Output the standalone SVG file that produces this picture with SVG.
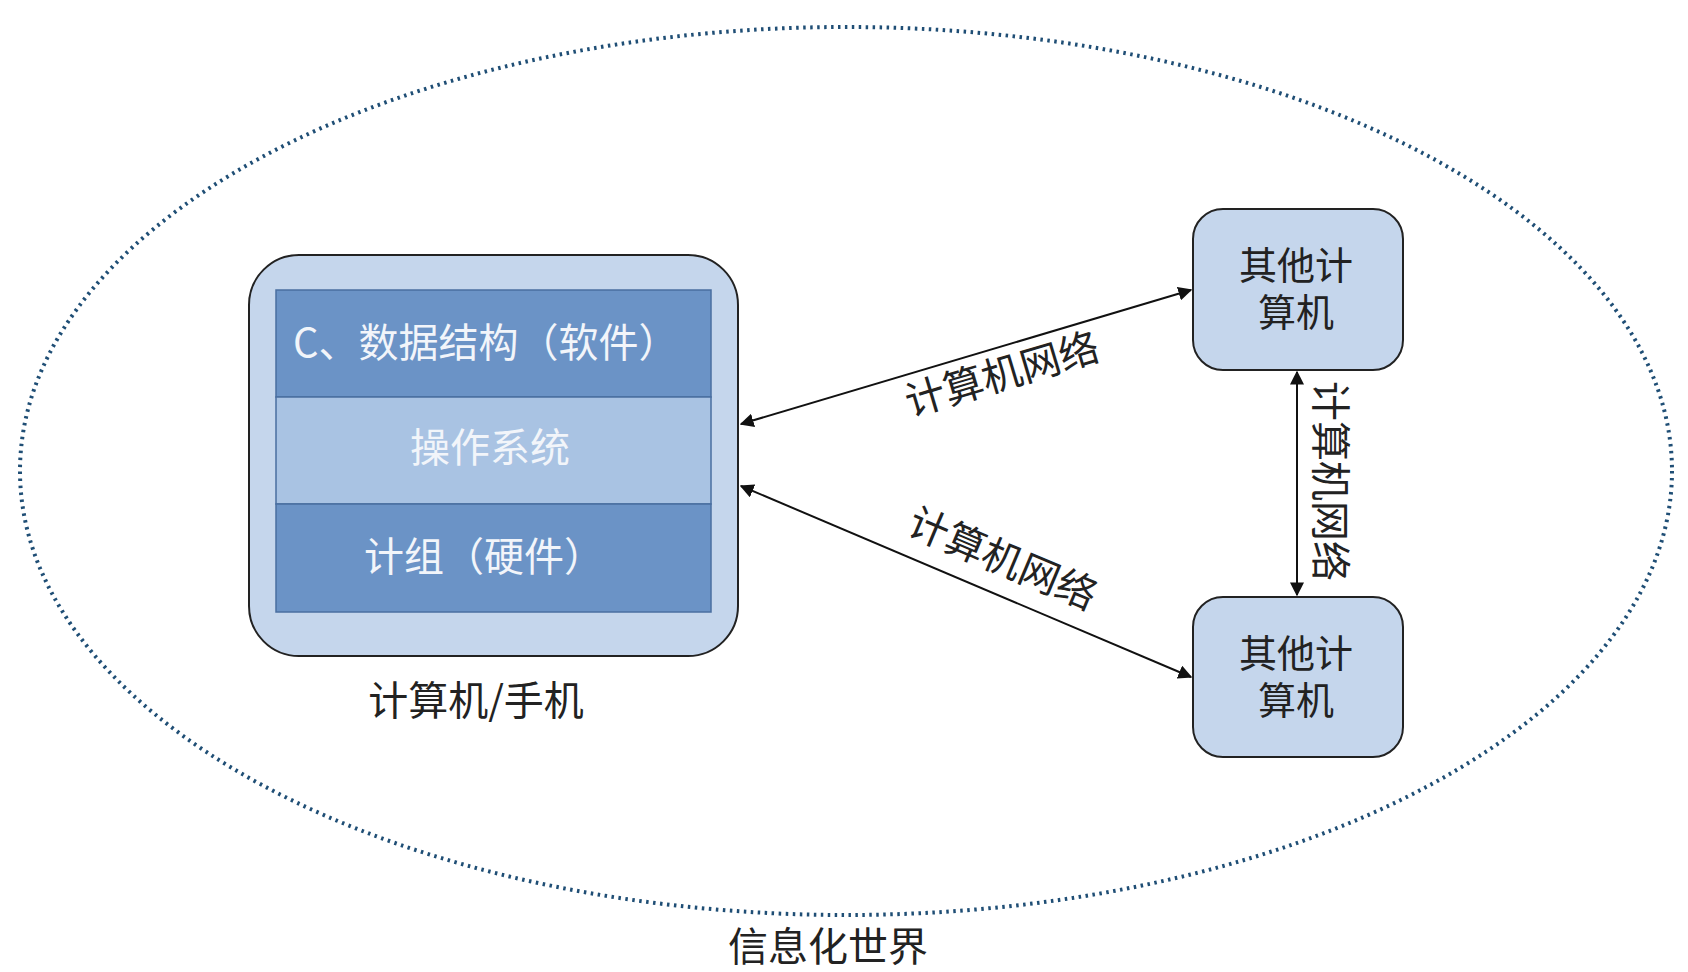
<svg xmlns="http://www.w3.org/2000/svg" width="1688" height="972" viewBox="0 0 1688 972">
<defs>
<marker id="ah" viewBox="0 0 10 10" refX="9" refY="5" markerWidth="7" markerHeight="7" orient="auto-start-reverse"><path d="M0,0 L10,5 L0,10 z" fill="#111"/></marker>
<style>
text{font-family:"Noto Sans CJK SC","Liberation Sans",sans-serif;}
.t{font-size:40px;fill:#222;text-anchor:middle;}
.b{font-size:38px;fill:#222;text-anchor:middle;}
.w{font-size:40px;fill:#f2f5fa;text-anchor:middle;}
.box{fill:#c5d6ec;stroke:#222;stroke-width:2;}
.c{stroke:#111;stroke-width:2;fill:none;marker-start:url(#ah);marker-end:url(#ah);}
</style>
</defs>
<rect width="1688" height="972" fill="#fff"/>
<g id="world"><ellipse cx="846" cy="471" rx="826" ry="444" fill="none" stroke="#1f4e75" stroke-width="4" stroke-dasharray="2.5 4.5"/>
<text class="t" x="828" y="961">信息化世界</text></g>
<g id="computer">
<rect class="box" x="249" y="255" width="489" height="401" rx="50"/>
<rect x="276" y="290" width="435" height="107" fill="#6b93c6" stroke="#4a6fa0" stroke-width="1.5"/>
<rect x="276" y="397" width="435" height="107" fill="#a9c3e3" stroke="#4a6fa0" stroke-width="1.5"/>
<rect x="276" y="504" width="435" height="108" fill="#6b93c6" stroke="#4a6fa0" stroke-width="1.5"/>
<text class="w" x="293" y="357" style="text-anchor:start">C、数据结构（软件）</text>
<text class="w" x="490" y="462">操作系统</text>
<text class="w" x="484" y="571">计组（硬件）</text>
<text class="t" x="476" y="715">计算机/手机</text>
</g>
<g id="other1"><rect class="box" x="1193" y="209" width="210" height="161" rx="30"/>
<text class="b" x="1296" y="279">其他计</text><text class="b" x="1296" y="326">算机</text></g>
<g id="other2"><rect class="box" x="1193" y="597" width="210" height="160" rx="30"/>
<text class="b" x="1296" y="667">其他计</text><text class="b" x="1296" y="714">算机</text></g>
<g id="connectors">
<line class="c" x1="741" y1="424" x2="1191" y2="290"/>
<line class="c" x1="741" y1="486" x2="1191" y2="677"/>
<line class="c" x1="1297" y1="372" x2="1297" y2="595"/>
<text class="t" transform="translate(1006,388) rotate(-16.6)">计算机网络</text>
<text class="t" transform="translate(997,572) rotate(22.9)">计算机网络</text>
<text class="t" transform="translate(1316,481) rotate(90)">计算机网络</text>
</g>
</svg>
